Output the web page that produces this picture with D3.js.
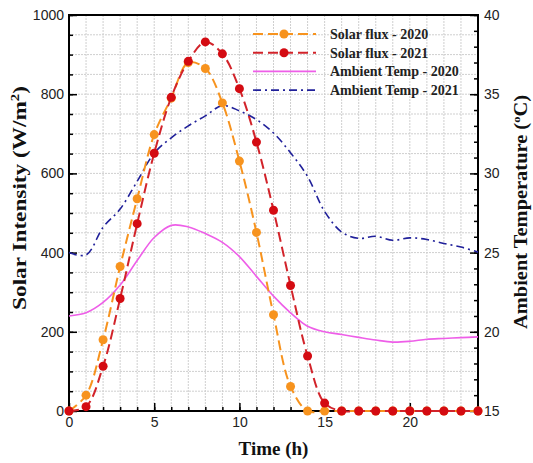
<!DOCTYPE html>
<html>
<head>
<meta charset="utf-8">
<script src="https://cdn.jsdelivr.net/npm/d3@7"></script>
<style>
  body { margin: 0; background: #fff; }
  svg { display: block; }
</style>
</head>
<body>
<div id="chart"></div>
<script>
// hours of the day
var hours = [0,1,2,3,4,5,6,7,8,9,10,11,12,13,14,15,16,17,18,19,20,21,22,23,24];

// solar intensity (W/m2)
var solar2020 = [0,40,180,365,536,698,790,880,865,778,631,451,243,62,0,0,0,0,0,0,0,0,0,0,0];
var solar2021 = [0,11,113,284,473,651,792,883,932,902,814,679,507,317,139,20,0,0,0,0,0,0,0,0,0];

// ambient temperature (degC)
var temp2020 = [21.0,21.2,21.85,22.95,24.5,25.95,26.72,26.62,26.2,25.65,24.75,23.5,22.25,21.2,20.35,20.0,19.83,19.65,19.48,19.35,19.4,19.53,19.58,19.63,19.68];
var temp2021 = [25.0,24.85,26.6,27.75,29.5,31.28,32.25,33.0,33.63,34.28,33.95,33.4,32.55,31.3,29.8,27.6,26.3,25.9,26.03,25.78,25.93,25.83,25.58,25.35,25.03];

var xTicks = [0,5,10,15,20];
var yTicks = [0,200,400,600,800,1000];
var y2Ticks = [15,20,25,30,35,40];

var legendNames = ['Solar flux - 2020','Solar flux - 2021','Ambient Temp - 2020','Ambient Temp - 2021'];

var W = 533, H = 463;
var pl = 69, pr = 478, pt = 15, pb = 411;

var orange = '#f7931e', red = '#d2232a', redDot = '#d40b12', magenta = '#ee5ee8', navy = '#20209a';

var svg = d3.select('#chart').append('svg')
  .attr('width', W)
  .attr('height', H);

var x = d3.scaleLinear().domain([0, 24]).range([pl, pr]);
var y = d3.scaleLinear().domain([0, 1000]).range([pb, pt]);
var y2 = d3.scaleLinear().domain([15, 40]).range([pb, pt]);

// grid
var grid = svg.append('g');
grid.selectAll('.vg')
  .data(d3.range(1, 24))
  .enter().append('line')
  .attr('x1', function(d){ return x(d); })
  .attr('x2', function(d){ return x(d); })
  .attr('y1', pt).attr('y2', pb)
  .attr('stroke', '#cfcfcf').attr('stroke-dasharray', '2,1');
grid.selectAll('.hg')
  .data(d3.range(50, 1000, 50))
  .enter().append('line')
  .attr('x1', pl).attr('x2', pr)
  .attr('y1', function(d){ return y(d); })
  .attr('y2', function(d){ return y(d); })
  .attr('stroke', '#cfcfcf').attr('stroke-dasharray', '2,1');

// axes, ticks pointing inward
function styleAxis(g) {
  g.select('.domain').remove();
  g.selectAll('.tick line').attr('stroke', '#000').attr('stroke-width', 1.5);
  g.selectAll('.tick text')
    .attr('fill', '#222')
    .style('font-family', '"Liberation Sans", Arial, sans-serif')
    .style('font-size', '14px');
}

// minor ticks first
svg.append('g')
  .attr('transform', 'translate(0,' + pb + ')')
  .call(d3.axisTop(x).tickValues(d3.range(0, 25)).tickSize(4).tickFormat(''))
  .call(styleAxis);
svg.append('g')
  .attr('transform', 'translate(' + pl + ',0)')
  .call(d3.axisRight(y).tickValues(d3.range(0, 1001, 50)).tickSize(4).tickFormat(''))
  .call(styleAxis);
svg.append('g')
  .attr('transform', 'translate(' + pr + ',0)')
  .call(d3.axisLeft(y2).tickValues(d3.range(15, 41)).tickSize(4).tickFormat(''))
  .call(styleAxis);

// major ticks
var xAxis = svg.append('g')
  .attr('transform', 'translate(0,' + pb + ')')
  .call(d3.axisTop(x).tickValues(xTicks).tickSize(8).tickFormat(d3.format('d')))
  .call(styleAxis);
xAxis.selectAll('.tick text').attr('y', 16).attr('dy', '0');

var yAxis = svg.append('g')
  .attr('transform', 'translate(' + pl + ',0)')
  .call(d3.axisRight(y).tickValues(yTicks).tickSize(8).tickFormat(d3.format('d')))
  .call(styleAxis);
yAxis.selectAll('.tick text').attr('x', -5).attr('text-anchor', 'end');

var y2Axis = svg.append('g')
  .attr('transform', 'translate(' + pr + ',0)')
  .call(d3.axisLeft(y2).tickValues(y2Ticks).tickSize(8).tickFormat(d3.format('d')))
  .call(styleAxis);
y2Axis.selectAll('.tick text').attr('x', 6).attr('text-anchor', 'start');

// frame
svg.append('rect')
  .attr('x', pl).attr('y', pt)
  .attr('width', pr - pl).attr('height', pb - pt)
  .attr('fill', 'none').attr('stroke', '#000').attr('stroke-width', 2);

// lines
var solarLine = d3.line()
  .x(function(d, i){ return x(hours[i]); })
  .y(function(d){ return Math.min(y(d), pb); })
  .curve(d3.curveCatmullRom.alpha(0.5));
var tempLine = d3.line()
  .x(function(d, i){ return x(hours[i]); })
  .y(function(d){ return y2(d); })
  .curve(d3.curveCatmullRom.alpha(0.5));

svg.append('path').datum(temp2020)
  .attr('d', tempLine).attr('fill', 'none')
  .attr('stroke', magenta).attr('stroke-width', 1.6);
svg.append('path').datum(temp2021)
  .attr('d', tempLine).attr('fill', 'none')
  .attr('stroke', navy).attr('stroke-width', 1.6)
  .attr('stroke-dasharray', '8,4,2,4');

svg.append('path').datum(solar2020)
  .attr('d', solarLine).attr('fill', 'none')
  .attr('stroke', orange).attr('stroke-width', 2)
  .attr('stroke-dasharray', '10,5');
svg.selectAll('.dot20')
  .data(solar2020)
  .enter().append('circle')
  .attr('cx', function(d, i){ return x(hours[i]); })
  .attr('cy', function(d){ return y(d); })
  .attr('r', 4.5).attr('fill', orange);

svg.append('path').datum(solar2021)
  .attr('d', solarLine).attr('fill', 'none')
  .attr('stroke', red).attr('stroke-width', 2)
  .attr('stroke-dasharray', '10,5');
svg.selectAll('.dot21')
  .data(solar2021)
  .enter().append('circle')
  .attr('cx', function(d, i){ return x(hours[i]); })
  .attr('cy', function(d){ return y(d); })
  .attr('r', 4.5).attr('fill', redDot);

// legend
var legColors = [orange, red, magenta, navy];
var legDash = ['10,5', '10,5', null, '8,4,2,4'];
var legDots = [orange, redDot, null, null];
var leg = svg.append('g');
legendNames.forEach(function(name, i) {
  var ly = 34 + i * 18.7;
  leg.append('line')
    .attr('x1', 253).attr('x2', 316)
    .attr('y1', ly).attr('y2', ly)
    .attr('stroke', legColors[i]).attr('stroke-width', i < 2 ? 2 : 1.6)
    .attr('stroke-dasharray', legDash[i]);
  if (legDots[i]) {
    leg.append('circle').attr('cx', 284).attr('cy', ly).attr('r', 4.5).attr('fill', legDots[i]);
  }
  leg.append('text')
    .attr('x', 330).attr('y', ly + 5)
    .style('font-family', '"Liberation Serif", "Times New Roman", serif')
    .style('font-weight', 'bold')
    .style('font-size', '14px')
    .attr('fill', '#222')
    .text(name);
});

// axis titles
var serif = '"Liberation Serif", "Times New Roman", serif';
svg.append('text')
  .attr('x', (pl + pr) / 2).attr('y', 455)
  .attr('text-anchor', 'middle')
  .style('font-family', serif).style('font-weight', 'bold').style('font-size', '19px')
  .attr('fill', '#111')
  .text('Time (h)');

// rotated titles, stretched along their length to the span seen in the picture
function sideTitle(cx, cy, span, size, parts) {
  var t = svg.append('text')
    .attr('text-anchor', 'middle')
    .style('font-family', serif).style('font-weight', 'bold').style('font-size', size + 'px')
    .attr('fill', '#111');
  parts.forEach(function(p) {
    var ts = t.append('tspan').text(p[0]);
    if (p[1]) ts.attr('dy', p[1]);
    if (p[2]) ts.style('font-size', p[2]);
  });
  var len = t.node().getBBox().width;
  t.attr('transform', 'translate(' + cx + ',' + cy + ') rotate(-90) scale(' + (span / len) + ',1)');
}
sideTitle(26, 198, 224, 19, [['Solar Intensity (W/m'], ['2', -7, '12px'], [')', 7]]);
sideTitle(527, 212, 234, 18, [['Ambient Temperature ('], ['o', -7, '11px'], ['C)', 7]]);
</script>
</body>
</html>
